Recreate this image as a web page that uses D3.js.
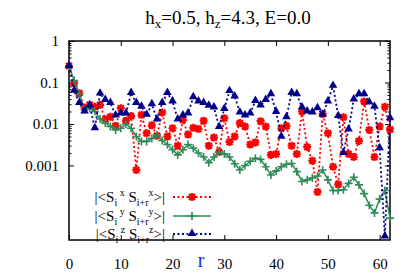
<!DOCTYPE html>
<html><head><meta charset="utf-8">
<script src="https://cdn.jsdelivr.net/npm/d3@7"></script>
<style>body{margin:0;background:#fff;}</style></head><body>
<svg id="c" width="415" height="277" font-family="Liberation Serif"></svg>
<script>
const FONT = "Liberation Serif";
const rValues = d3.range(0, 63);
const corrX = [0.25,0.095,0.055,0.025,0.029,0.026,0.029,0.013,0.015,0.009,0.024,0.012,0.0155,0.00078,0.0166,
0.006,0.0093,0.0052,0.019,0.005,0.0079,0.003,0.0126,0.0056,0.0081,0.0076,0.012,0.003,0.0047,0.0021,0.0138,
0.0037,0.005,0.0105,0.0087,0.0032,0.0036,0.0117,0.0087,0.0018,0.0019,0.0079,0.0089,0.003,0.0019,0.02,
0.0028,0.0013,0.00023,0.0174,0.006,0.00093,0.00035,0.0145,0.0019,0.0016,0.0039,0.035,0.0072,0.0016,0.0087,0.026,0.0074];
const corrY = [0.25,0.112,0.052,0.0224,0.024,0.02,0.0132,0.0105,0.0087,0.0072,0.0079,0.01,0.0079,0.005,0.0038,
0.0038,0.0045,0.0054,0.004,0.0032,0.0024,0.0018,0.0024,0.0032,0.0026,0.002,0.0016,0.00117,0.0016,0.0021,0.0019,
0.0016,0.0011,0.00078,0.001,0.00126,0.0015,0.0014,0.00093,0.00059,0.00074,0.00093,0.00107,0.00112,0.00071,0.00041,
0.00045,0.0005,0.00056,0.00078,0.00045,0.00025,0.00025,0.00026,0.00037,0.00052,0.00034,0.00021,0.00011,0.000072,0.000155,0.00025,0.000054];
const corrZ = [0.25,0.063,0.032,0.02,0.028,0.0079,0.054,0.038,0.032,0.016,0.018,0.018,0.056,0.032,0.026,
0.0166,0.03,0.0129,0.032,0.056,0.035,0.0129,0.016,0.018,0.044,0.035,0.032,0.0275,0.025,0.0085,0.023,
0.062,0.046,0.019,0.016,0.018,0.036,0.028,0.038,0.052,0.0195,0.0049,0.0145,0.056,0.052,0.025,
0.02,0.019,0.024,0.0166,0.035,0.083,0.0155,0.002,0.0074,0.039,0.052,0.052,0.033,0.026,0.0026,0.0000195,0.0138];
const xTicks = [0,10,20,30,40,50,60];
const yTicks = [1,0.1,0.01,0.001];
const yTickLabels = ["1","0.1","0.01","0.001"];
const seriesNames = ["x","y","z"];

const svg = d3.select("#c");
const L=69,R=390,T=41,B=240;
const x = d3.scaleLinear().domain([0,62]).range([L,R]);
const y = d3.scaleLog().domain([1.6e-5,1]).range([B,T]);

const yMinor = [];
[0.001,0.01,0.1].forEach(d=>{for(let k=2;k<=9;k++) yMinor.push(d*k);});

svg.append("rect").attr("x",L).attr("y",T).attr("width",R-L).attr("height",B-T)
  .attr("fill","none").attr("stroke","#000").attr("stroke-width",1.5);

function styleAxis(g){g.attr("font-family",FONT);g.select(".domain").remove();g.selectAll("line").attr("stroke","#000").attr("stroke-width",1);
  g.selectAll("text").attr("font-family",FONT).attr("font-size",15).attr("fill","#000");}

svg.append("g").attr("transform",`translate(0,${B})`)
  .call(d3.axisBottom(x).tickValues(xTicks).tickFormat(d3.format("d")).tickSizeInner(-5).tickSizeOuter(0).tickPadding(18))
  .call(styleAxis);
svg.append("g").attr("transform",`translate(0,${T})`)
  .call(d3.axisTop(x).tickValues(xTicks).tickFormat("").tickSizeInner(-5).tickSizeOuter(0))
  .call(styleAxis);
svg.append("g").attr("transform",`translate(${L},0)`)
  .call(d3.axisLeft(y).tickValues(yTicks).tickFormat((d,i)=>yTickLabels[i]).tickSizeInner(-5).tickSizeOuter(0).tickPadding(10))
  .call(styleAxis);
svg.append("g").attr("transform",`translate(${L},0)`)
  .call(d3.axisLeft(y).tickValues(yMinor).tickFormat("").tickSizeInner(-2.5).tickSizeOuter(0))
  .call(styleAxis);
svg.append("g").attr("transform",`translate(${R},0)`)
  .call(d3.axisRight(y).tickValues(yTicks).tickFormat("").tickSizeInner(-5).tickSizeOuter(0))
  .call(styleAxis);
svg.append("g").attr("transform",`translate(${R},0)`)
  .call(d3.axisRight(y).tickValues(yMinor).tickFormat("").tickSizeInner(-2.5).tickSizeOuter(0))
  .call(styleAxis);

const title = svg.append("text").attr("x",228).attr("y",24).attr("text-anchor","middle")
  .attr("font-family",FONT).attr("font-size",19).attr("fill","#000");
title.append("tspan").text("h");
title.append("tspan").attr("dy",4).attr("font-size",13).text("x");
title.append("tspan").attr("dy",-4).text("=0.5, h");
title.append("tspan").attr("dy",4).attr("font-size",13).text("z");
title.append("tspan").attr("dy",-4).text("=4.3, E=0.0");

svg.append("text").attr("x",201).attr("y",267).attr("text-anchor","middle")
  .attr("font-family",FONT).attr("font-size",20).attr("fill","#1a1aff").text("r");

const asterisk = (s)=>`M${-s},0L${s},0M0,${-s}L0,${s}M${-s*0.75},${-s*0.75}L${s*0.75},${s*0.75}M${-s*0.75},${s*0.75}L${s*0.75},${-s*0.75}`;
const plus = (s)=>`M${-s},0L${s},0M0,${-s}L0,${s}`;
const tri = d3.symbol().type(d3.symbolTriangle).size(32)();

const cfg = [
 {data:corrX,color:"#ff0000",dash:"2,2.5",w:1.8,mark:(g)=>g.append("path").attr("d",asterisk(4)).attr("stroke","#ff0000").attr("stroke-width",2.2).attr("fill","none")},
 {data:corrY,color:"#2e8b57",dash:null,w:1.5,mark:(g)=>g.append("path").attr("d",plus(4)).attr("stroke","#2e8b57").attr("stroke-width",1.6).attr("fill","none")},
 {data:corrZ,color:"#00008b",dash:"2,2.5",w:1.8,mark:(g)=>g.append("path").attr("d",tri).attr("transform","translate(0,-0.5)").attr("fill","#00008b")}
];

const line = d3.line().x((d,i)=>x(rValues[i])).y(d=>y(d));
cfg.forEach(c=>{
  const g = svg.append("g");
  g.append("path").datum(c.data).attr("d",line).attr("fill","none")
    .attr("stroke",c.color).attr("stroke-width",c.w).attr("stroke-dasharray",c.dash);
  c.data.forEach((d,i)=>{
    const m = g.append("g").attr("transform",`translate(${x(rValues[i])},${y(d)})`);
    c.mark(m);
  });
});

const legY = [197,216,234];
cfg.forEach((c,i)=>{
  const s = seriesNames[i];
  const t = svg.append("text").attr("x",165).attr("y",legY[i]+5).attr("text-anchor","end")
    .attr("font-family",FONT).attr("font-size",15).attr("fill","#000");
  t.append("tspan").text("|<S");
  t.append("tspan").attr("dy",4).attr("font-size",10).text("i");
  t.append("tspan").attr("dy",-10).attr("font-size",10).text(" "+s);
  t.append("tspan").attr("dy",6).text(" S");
  t.append("tspan").attr("dy",4).attr("font-size",10).text("i+r");
  t.append("tspan").attr("dy",-10).attr("font-size",10).text(s);
  t.append("tspan").attr("dy",6).text(">|");
  const g = svg.append("g");
  g.append("line").attr("x1",173).attr("x2",211).attr("y1",legY[i]).attr("y2",legY[i])
    .attr("stroke",c.color).attr("stroke-width",c.w).attr("stroke-dasharray",c.dash);
  c.mark(g.append("g").attr("transform",`translate(192,${legY[i]})`));
});
</script>
</body></html>
